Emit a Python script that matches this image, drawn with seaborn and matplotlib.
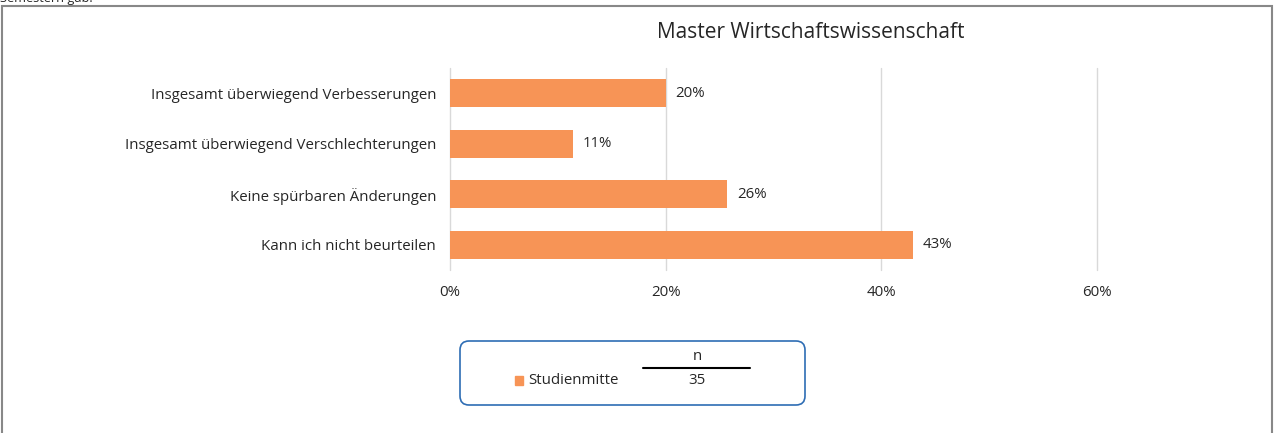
import matplotlib
matplotlib.use("Agg")
import matplotlib.pyplot as plt
import seaborn as sns
import pandas as pd
from matplotlib.patches import FancyBboxPatch, Rectangle
from matplotlib.lines import Line2D
from matplotlib.transforms import IdentityTransform

categories = [
    "Insgesamt überwiegend Verbesserungen",
    "Insgesamt überwiegend Verschlechterungen",
    "Keine spürbaren Änderungen",
    "Kann ich nicht beurteilen",
]
values = [0.200, 0.114, 0.257, 0.429]
labels = ["20%", "11%", "26%", "43%"]
xticks = [0, 0.2, 0.4, 0.6]
xticklabels = ["0%", "20%", "40%", "60%"]
title = "Master Wirtschaftswissenschaft"
series_name = "Studienmitte"
n_value = "35"

sns.set_theme(style="white")
plt.rcParams['font.family'] = ['Open Sans', 'DejaVu Sans']

W, H = 1276, 433
fig = plt.figure(figsize=(W / 100, H / 100), dpi=100)

def fx(px):
    return px / W

def fy(py):
    return 1 - py / H

FS = 10.8
txt = "#262626"

ax = fig.add_axes([fx(450), fy(270), fx(1097) - fx(450), fy(68) - fy(270)])
df = pd.DataFrame({"cat": categories, "val": values})
orange = "#F79456"
sns.barplot(data=df, y="cat", x="val", orient="h", color=orange, width=0.55,
            saturation=1, ax=ax, edgecolor="none")
ax.set_xlim(0, 0.6)
ax.set_ylim(3.5, -0.5)
ax.set_xticks(xticks)
ax.set_xticklabels(xticklabels, fontsize=FS, color=txt)
ax.tick_params(axis="y", labelsize=FS, colors=txt, length=0, pad=10)
ax.tick_params(axis="x", length=0, pad=11)
ax.set_xlabel("")
ax.set_ylabel("")
ax.grid(axis="x", color="#D9D9D9", linewidth=1)
for gl in ax.get_xgridlines():
    gl.set_clip_on(False)
ax.set_axisbelow(True)
for s in ax.spines.values():
    s.set_visible(False)
ax.bar_label(ax.containers[0], labels=labels, padding=7, fontsize=FS, color=txt)

fig.text(fx(811), fy(33), title, ha="center", va="center", fontsize=15, color=txt)

# outer border
fig.patches.append(Rectangle((fx(2), fy(440)), fx(1272) - fx(2), fy(6) - fy(440),
                             transform=fig.transFigure, fill=False,
                             edgecolor="#888888", linewidth=1.5))
# cut-off text above
fig.text(fx(0), fy(-1), "Semestern gab.", ha="left", va="center", fontsize=9.2, color=txt)

# legend box (pixel coordinates, origin bottom-left)
fig.patches.append(FancyBboxPatch((460, H - 405), 805 - 460, 405 - 341,
                                  boxstyle="round,pad=0,rounding_size=9",
                                  transform=IdentityTransform(), fill=False,
                                  edgecolor="#2E6DB4", linewidth=1.2))
fig.patches.append(Rectangle((fx(515), fy(385)), fx(523) - fx(515), fy(376) - fy(385),
                             transform=fig.transFigure, color=orange))
fig.text(fx(528), fy(380), series_name, ha="left", va="center", fontsize=FS, color=txt)
fig.text(fx(697), fy(357), "n", ha="center", va="center", fontsize=FS, color=txt)
fig.lines.append(Line2D([fx(643), fx(750)], [fy(368), fy(368)], transform=fig.transFigure,
                        color="black", linewidth=1.5))
fig.text(fx(697), fy(381), n_value, ha="center", va="center", fontsize=FS, color=txt)

fig.savefig("out.png", dpi=100)
